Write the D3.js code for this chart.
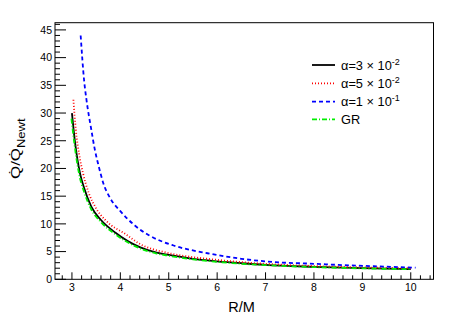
<!DOCTYPE html>
<html>
<head>
<meta charset="utf-8">
<script src="https://cdn.jsdelivr.net/npm/d3@7"></script>
<style>
  body { margin: 0; background: #fff; }
  text { font-family: "Liberation Sans", Arial, sans-serif; fill: #000; }
</style>
</head>
<body>
<div id="chart"></div>
<script>
var width = 473,
    height = 321;

// (R/M, Qdot/Qdot_Newt)
var rBlack = [3.0, 3.06, 3.17, 3.25, 3.4, 3.6, 3.9, 4.4, 4.75, 5.0, 5.5, 6.0, 6.5, 7.0, 8.0, 9.0, 10.0];
var qBlack = [30, 25, 19, 16.5, 13.1, 10.7, 8.4, 5.8, 4.8, 4.4, 3.7, 3.25, 2.9, 2.6, 2.25, 2.0, 1.85];

var rRed = [3.03, 3.08, 3.15, 3.23, 3.35, 3.48, 3.7, 4.1, 4.4, 4.96, 5.5, 5.85, 6.5, 7.0, 8.0, 9.0, 10.0];
var qRed = [32.4, 27, 22.5, 19.1, 15.5, 13.1, 10.6, 8.2, 6.4, 4.8, 4.0, 3.65, 3.1, 2.8, 2.4, 2.15, 2.0];

var rBlue = [3.18, 3.25, 3.3, 3.4, 3.475, 3.55, 3.65, 3.8, 4.0, 4.3, 4.6, 5.1, 5.8, 6.5, 7.2, 8.0, 8.5, 9.3, 10.1];
var qBlue = [44, 36, 32.4, 27, 23.3, 20.5, 17.3, 14.5, 12.3, 9.7, 7.9, 6.1, 4.7, 3.7, 3.1, 2.8, 2.6, 2.35, 2.1];

var rGreen = [2.99, 3.05, 3.16, 3.25, 3.4, 3.6, 3.9, 4.4, 4.75, 5.0, 5.5, 6.0, 6.5, 7.0, 8.0, 9.0, 10.0];
var qGreen = [29, 24.5, 18.5, 15.8, 12.6, 10.3, 8.1, 5.6, 4.65, 4.25, 3.6, 3.15, 2.8, 2.55, 2.2, 1.97, 1.82];

var legendLabels = [["α=3 × 10", "-2"], ["α=5 × 10", "-2"], ["α=1 × 10", "-1"], ["GR", ""]];
var yTicks = [0, 5, 10, 15, 20, 25, 30, 35, 40, 45];
var xTicks = [3, 4, 5, 6, 7, 8, 9, 10];

var padL = 55, padR = 433.5, padT = 22.7, padB = 279.3;

var x = d3.scaleLinear().domain([2.65, 10.47]).range([padL, padR]);
var y = d3.scaleLinear().domain([0, 46.3]).range([padB, padT]);

var svg = d3.select("#chart").append("svg")
    .attr("width", width)
    .attr("height", height);

// frame
svg.append("rect")
    .attr("x", padL).attr("y", padT)
    .attr("width", padR - padL).attr("height", padB - padT)
    .attr("fill", "none").attr("stroke", "#000").attr("stroke-width", 1);

// y axis ticks (inward)
var yMinor = d3.range(0, 46.01, 1);
svg.selectAll(".ytick")
    .data(yMinor)
    .enter().append("line")
    .attr("x1", padL)
    .attr("x2", function(d) { return d % 5 === 0 ? padL + 11 : padL + 5; })
    .attr("y1", function(d) { return y(d); })
    .attr("y2", function(d) { return y(d); })
    .attr("stroke", "#000");

svg.selectAll(".ylab")
    .data(yTicks)
    .enter().append("text")
    .attr("x", padL - 3)
    .attr("y", function(d) { return y(d) + 3.8; })
    .attr("text-anchor", "end")
    .style("font-size", "10.5px")
    .text(function(d) { return d; });

// x axis ticks (inward)
var xMinor = d3.range(28, 105, 2).map(function(d) { return d / 10; });
svg.selectAll(".xtick")
    .data(xMinor)
    .enter().append("line")
    .attr("x1", function(d) { return x(d); })
    .attr("x2", function(d) { return x(d); })
    .attr("y1", padB)
    .attr("y2", function(d) { return Math.abs(d - Math.round(d)) < 1e-6 ? padB - 7 : padB - 4; })
    .attr("stroke", "#000");

svg.selectAll(".xlab")
    .data(xTicks)
    .enter().append("text")
    .attr("x", function(d) { return x(d); })
    .attr("y", 291)
    .attr("text-anchor", "middle")
    .style("font-size", "10.5px")
    .text(function(d) { return d; });

// axis titles
svg.append("text")
    .attr("x", 241.5)
    .attr("y", 311.5)
    .attr("text-anchor", "middle")
    .style("font-size", "14.5px")
    .text("R/M");

var ytitle = svg.append("text")
    .attr("transform", "translate(20,179) rotate(-90) scale(1.3,1)")
    .style("font-size", "13px");
ytitle.append("tspan").text("Q\u0307/Q\u0307");
ytitle.append("tspan").attr("dy", 5).style("font-size", "10px").text("Newt");

// curves
var series = [
    { r: rBlack, q: qBlack, color: "#000000", dash: null },
    { r: rRed, q: qRed, color: "#ff0000", dash: "1,2" },
    { r: rBlue, q: qBlue, color: "#0000ff", dash: "4,3" },
    { r: rGreen, q: qGreen, color: "#00ee00", dash: "5,2,1,2" }
];

var line = d3.line()
    .x(function(d) { return x(d[0]); })
    .y(function(d) { return y(d[1]); })
    .curve(d3.curveMonotoneX);

svg.selectAll(".curve")
    .data(series)
    .enter().append("path")
    .attr("d", function(s) { return line(d3.zip(s.r, s.q)); })
    .attr("fill", "none")
    .attr("stroke", function(s) { return s.color; })
    .attr("stroke-width", 1.8)
    .attr("stroke-dasharray", function(s) { return s.dash; });

// legend
var lg = svg.append("g");
var rows = lg.selectAll(".row")
    .data(series)
    .enter().append("g")
    .attr("transform", function(d, i) { return "translate(0," + [65, 83.3, 101.7, 119.3][i] + ")"; });

rows.append("line")
    .attr("x1", 312).attr("x2", 335)
    .attr("y1", 0).attr("y2", 0)
    .attr("stroke", function(s) { return s.color; })
    .attr("stroke-width", 1.8)
    .attr("stroke-dasharray", function(s) { return s.dash; });

var lt = rows.append("text")
    .attr("x", 341)
    .attr("y", 4.5)
    .style("font-size", "12.8px");
lt.append("tspan").text(function(d, i) { return legendLabels[i][0]; });
lt.append("tspan")
    .attr("dy", -5)
    .style("font-size", "9px")
    .text(function(d, i) { return legendLabels[i][1]; });
</script>
</body>
</html>
